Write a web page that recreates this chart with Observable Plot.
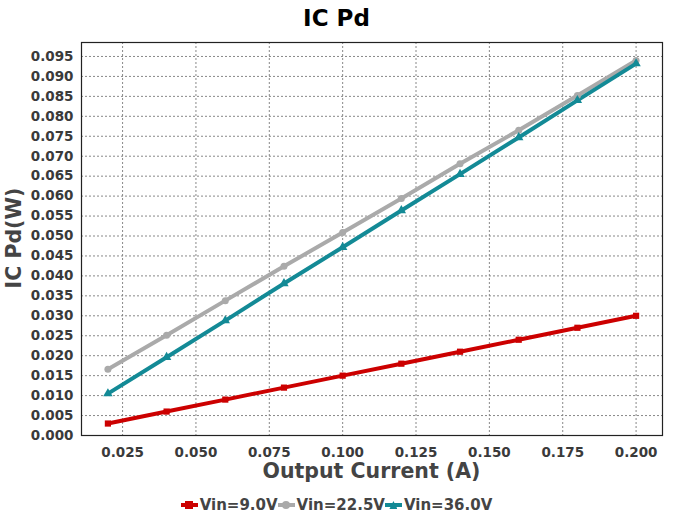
<!DOCTYPE html>
<html><head><meta charset="utf-8">
<script src="https://cdn.jsdelivr.net/npm/d3@7"></script>
<script src="https://cdn.jsdelivr.net/npm/@observablehq/plot@0.6"></script>
<style>
body{margin:0;background:#fff;font-family:"DejaVu Sans",sans-serif;}
#wrap{position:relative;width:673px;height:513px;overflow:hidden;}
.t{position:absolute;font-weight:bold;white-space:nowrap;}
#title{left:0;width:673px;top:5px;text-align:center;font-size:23px;color:#000;}
#xlab{left:81px;width:581px;top:459px;text-align:center;font-size:20.5px;color:#444;}
#ylab{left:14px;top:238px;font-size:20.5px;color:#444;transform:translate(-50%,-50%) rotate(-90deg);}
#legend{left:0;width:673px;top:493px;text-align:center;font-size:15px;color:#444;}
.li{display:inline-flex;align-items:center;margin:0;}
.sw{display:inline-block;width:17px;height:4px;margin-right:2px;position:relative;}
.sw i{position:absolute;left:4.5px;top:-2px;width:8px;height:8px;}
</style></head>
<body><div id="wrap">
<div id="chart"></div>
<div class="t" id="title">IC Pd</div>
<div class="t" id="xlab">Output Current (A)</div>
<div class="t" id="ylab">IC Pd(W)</div>
<div class="t" id="legend"></div>
</div>
<script>
const current = [0.02, 0.04, 0.06, 0.08, 0.10, 0.12, 0.14, 0.16, 0.18, 0.20];
const vin9 = [0.003, 0.006, 0.009, 0.012, 0.015, 0.018, 0.021, 0.024, 0.027, 0.030];
const vin22 = [0.0166, 0.0251, 0.0338, 0.0424, 0.0509, 0.0594, 0.0681, 0.0765, 0.0852, 0.0940];
const vin36 = [0.0105, 0.0196, 0.0288, 0.0381, 0.0472, 0.0564, 0.0655, 0.0747, 0.0840, 0.0932];
const seriesNames = ["Vin=9.0V", "Vin=22.5V", "Vin=36.0V"];
const seriesColors = ["#cc0000", "#aaaaaa", "#138a96"];
const seriesSymbols = ["square", "circle", "triangle"];
const xTicks = [0.025, 0.05, 0.075, 0.1, 0.125, 0.15, 0.175, 0.2];
const yTicks = d3.range(0, 20).map(i => i * 0.005);

const allSeries = [vin9, vin22, vin36];
const data = [];
allSeries.forEach((vals, s) => vals.forEach((v, i) => data.push({x: current[i], y: v, s: seriesNames[s]})));

const fmt = d3.format(".3f");
const chart = Plot.plot({
  width: 673, height: 513,
  marginLeft: 81, marginRight: 11, marginTop: 42, marginBottom: 78,
  style: {fontFamily: "DejaVu Sans", fontSize: "13px", fontWeight: "bold", color: "#444", background: "#fff"},
  x: {domain: [0.011, 0.209], label: null},
  y: {domain: [0, 0.0985], label: null},
  color: {domain: seriesNames, range: seriesColors},
  symbol: {domain: seriesNames, range: seriesSymbols},
  marks: [
    Plot.gridX(xTicks, {stroke: "#888", strokeOpacity: 1, strokeDasharray: "2,2", strokeWidth: 1}),
    Plot.gridY(yTicks, {stroke: "#888", strokeOpacity: 1, strokeDasharray: "2,2", strokeWidth: 1}),
    Plot.axisX(xTicks, {tickSize: 0, tickPadding: 12, tickFormat: fmt, fontSize: 13.5, fontWeight: "bold", fill: "#3a3a3a", label: null}),
    Plot.axisY(yTicks, {tickSize: 0, tickPadding: 8, tickFormat: fmt, fontSize: 13.5, fontWeight: "bold", fill: "#3a3a3a", label: null}),
    Plot.line(data, {x: "x", y: "y", z: "s", stroke: "s", strokeWidth: 4}),
    Plot.dot(data, {x: "x", y: "y", fill: "s", symbol: "s", r: 3.5}),
    Plot.frame({stroke: "#222", strokeWidth: 1.2})
  ]
});
document.getElementById("chart").appendChild(chart);

const leg = document.getElementById("legend");
seriesNames.forEach((n, i) => {
  const span = document.createElement("span");
  span.className = "li";
  const r = seriesSymbols[i] === "circle" ? "50%" : "0";
  const clip = seriesSymbols[i] === "triangle" ? "clip-path:polygon(50% 0,100% 100%,0 100%);" : "";
  span.innerHTML = `<span class="sw" style="background:${seriesColors[i]}"><i style="background:${seriesColors[i]};border-radius:${r};${clip}"></i></span>${n}`;
  leg.appendChild(span);
});
</script>
</body></html>
